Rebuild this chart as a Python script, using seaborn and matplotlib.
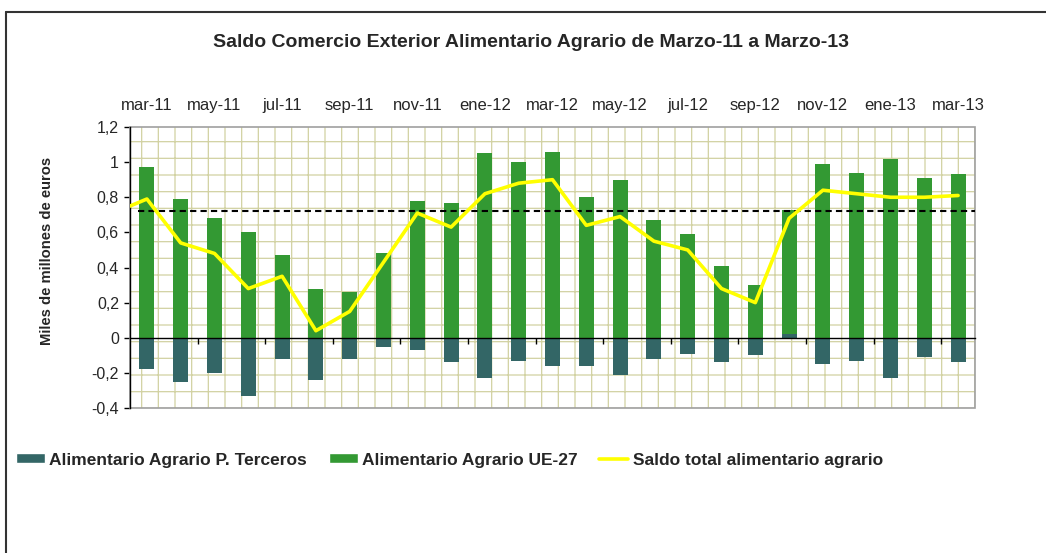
import numpy as np
import pandas as pd
import matplotlib
matplotlib.use('Agg')
import matplotlib.pyplot as plt
import seaborn as sns
from matplotlib.patches import Patch, Rectangle
from matplotlib.lines import Line2D

meses = ['mar-11', 'abr-11', 'may-11', 'jun-11', 'jul-11', 'ago-11', 'sep-11', 'oct-11',
         'nov-11', 'dic-11', 'ene-12', 'feb-12', 'mar-12', 'abr-12', 'may-12', 'jun-12',
         'jul-12', 'ago-12', 'sep-12', 'oct-12', 'nov-12', 'dic-12', 'ene-13', 'feb-13', 'mar-13']
terceros = [-0.18, -0.25, -0.20, -0.33, -0.12, -0.24, -0.12, -0.05, -0.07, -0.14, -0.23, -0.13,
            -0.16, -0.16, -0.21, -0.12, -0.09, -0.14, -0.10, 0.02, -0.15, -0.13, -0.23, -0.11, -0.14]
ue27 = [0.97, 0.79, 0.68, 0.60, 0.47, 0.28, 0.26, 0.48, 0.78, 0.77, 1.05, 1.00,
        1.06, 0.80, 0.90, 0.67, 0.59, 0.41, 0.30, 0.71, 0.99, 0.94, 1.02, 0.91, 0.93]
# saldo total starts one month earlier (feb-11); that point is cut at the left edge
saldo = [0.71, 0.79, 0.54, 0.48, 0.28, 0.35, 0.04, 0.15, 0.43, 0.71, 0.63, 0.82, 0.88,
         0.90, 0.64, 0.69, 0.55, 0.50, 0.28, 0.20, 0.68, 0.84, 0.82, 0.80, 0.80, 0.81]
media = 0.72
yticks = [-0.4, -0.2, 0, 0.2, 0.4, 0.6, 0.8, 1, 1.2]
ytick_labels = ['-0,4', '-0,2', '0', '0,2', '0,4', '0,6', '0,8', '1', '1,2']

verde = '#339933'
azul = '#336666'
amarillo = '#ffff00'
trama = '#d2d2a2'

sns.set_style('white')
plt.rcParams['font.family'] = ['Liberation Sans', 'DejaVu Sans']
plt.rcParams['hatch.linewidth'] = 0.9
plt.rcParams['hatch.color'] = trama

df = pd.DataFrame({'mes': meses, 'terceros': terceros, 'ue27': ue27})
# stacked look: green sits on top of a positive terceros value
df['ue27_top'] = df['terceros'].clip(lower=0) + df['ue27']

fig = plt.figure(figsize=(10.46, 5.53), dpi=100)
ax = fig.add_axes([130 / 1046, 1 - 408 / 553, 845 / 1046, 281 / 553])

# patterned plot area
ax.add_patch(Rectangle((0, 0), 1, 1, transform=ax.transAxes, facecolor='white',
                       edgecolor=trama, hatch='+', linewidth=0, zorder=0.5))
ax.add_patch(Rectangle((0, 0), 1, 1, transform=ax.transAxes, fill=False,
                       edgecolor='#a0a0a0', linewidth=1.2, zorder=1, clip_on=False))

sns.barplot(data=df, x='mes', y='ue27_top', color=verde, width=0.44, saturation=1,
            linewidth=0, ax=ax, zorder=2)
sns.barplot(data=df, x='mes', y='terceros', color=azul, width=0.44, saturation=1,
            linewidth=0, ax=ax, zorder=3)

ax.hlines(media, -0.25, len(meses) - 0.5, colors='black', linestyles=(0, (3, 2)),
          linewidth=1.5, zorder=3.5)
sns.lineplot(x=np.arange(len(saldo)) - 1, y=saldo, color=amarillo, linewidth=2.6,
             ax=ax, zorder=4)

ax.set_xlim(-0.5, len(meses) - 0.5)
ax.set_ylim(-0.4, 1.2)
ax.set_yticks(yticks, labels=ytick_labels)
ax.set_xticks(np.arange(1.5, len(meses) - 1, 2), labels=[])
ax.set_xlabel('')
ax.set_ylabel('')
ax.tick_params(axis='y', direction='out', length=4, width=1, color='black',
               pad=4, labelsize=11.5, left=True)
ax.tick_params(axis='x', direction='out', length=4, width=1, color='black', bottom=True)
for s in ['top', 'right']:
    ax.spines[s].set_visible(False)
ax.spines['bottom'].set_position(('data', 0))
ax.spines['bottom'].set_color('black')
ax.spines['bottom'].set_linewidth(1.0)
ax.spines['bottom'].set_zorder(3.6)
ax.spines['left'].set_color('black')
ax.spines['left'].set_linewidth(1.0)

secax = ax.secondary_xaxis('top')
secax.set_xticks(np.arange(0, len(meses), 2), labels=meses[::2])
secax.tick_params(length=0, pad=10, labelsize=12)
secax.spines['top'].set_visible(False)

fig.text(0.508, 0.924, 'Saldo Comercio Exterior Alimentario Agrario de Marzo-11 a Marzo-13',
         ha='center', va='center', fontsize=14, fontweight='bold')
fig.text(0.045, 0.546, 'Miles de millones de euros', rotation=90, ha='center', va='center',
         fontsize=10.6, fontweight='bold')

handles = [Patch(facecolor=azul), Patch(facecolor=verde),
           Line2D([], [], color=amarillo, linewidth=2.6)]
labels = ['Alimentario Agrario P. Terceros', 'Alimentario Agrario UE-27',
          'Saldo total alimentario agrario']
fig.legend(handles, labels, loc='center left', bbox_to_anchor=(16 / 1046, 1 - 460 / 553),
           ncol=3, frameon=False, prop={'weight': 'bold', 'size': 12.5},
           handlelength=1.67, handleheight=0.5, handletextpad=0.25, columnspacing=1.25,
           borderaxespad=0, borderpad=0)

# outer chart border (top and left)
fig.add_artist(Line2D([6 / 1046, 1], [1 - 12 / 553] * 2, transform=fig.transFigure,
                      color='#333333', linewidth=1.5))
fig.add_artist(Line2D([6 / 1046] * 2, [0, 1 - 12 / 553], transform=fig.transFigure,
                      color='#333333', linewidth=1.5))

fig.savefig('out.png', dpi=100)
